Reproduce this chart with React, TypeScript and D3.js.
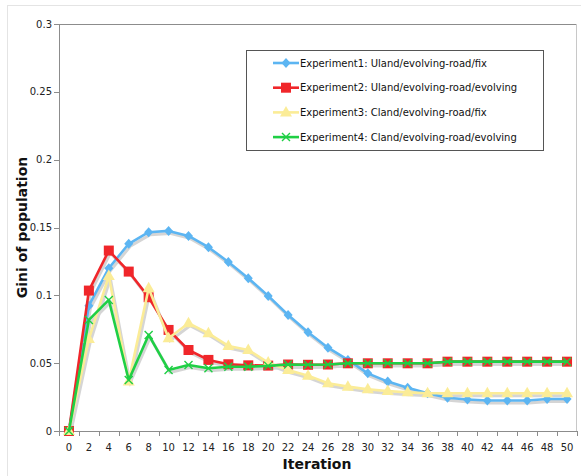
import React from "react";
import * as d3 from "d3";

const iterations = [0,2,4,6,8,10,12,14,16,18,20,22,24,26,28,30,32,34,36,38,40,42,44,46,48,50];
const exp1 = [0,0.0924,0.120,0.138,0.1465,0.1475,0.1438,0.1355,0.1246,0.1126,0.0996,0.0855,0.0728,0.0614,0.0524,0.0425,0.0364,0.0319,0.0278,0.0245,0.0232,0.0225,0.0225,0.0225,0.0236,0.0236];
const exp2 = [0,0.1035,0.133,0.1175,0.0986,0.0745,0.0597,0.0524,0.0492,0.0484,0.0482,0.049,0.0488,0.049,0.0499,0.0499,0.0499,0.0499,0.0499,0.0511,0.0511,0.0511,0.0511,0.0511,0.0511,0.0511];
const exp3 = [0,0.0678,0.1143,0.0364,0.1052,0.0684,0.0794,0.072,0.0627,0.0597,0.0504,0.045,0.0408,0.0352,0.0327,0.0307,0.0295,0.0285,0.0278,0.0278,0.0278,0.0278,0.0278,0.0278,0.0278,0.0278];
const exp4 = [0,0.0819,0.0966,0.0376,0.0708,0.045,0.0487,0.0462,0.0474,0.0474,0.048,0.049,0.0488,0.049,0.0499,0.0499,0.0499,0.0499,0.0499,0.0511,0.0511,0.0511,0.0511,0.0511,0.0511,0.0511];
const yTicks = [0,0.05,0.1,0.15,0.2,0.25,0.3];
const seriesNames = [
  "Experiment1: Uland/evolving-road/fix",
  "Experiment2: Uland/evolving-road/evolving",
  "Experiment3: Cland/evolving-road/fix",
  "Experiment4: Cland/evolving-road/evolving",
];
const seriesColors = ["#5cb5f2", "#f0262a", "#fbec97", "#1fcf45"];
const seriesShapes = ["diamond", "square", "triangle", "x"];

const W = 581, H = 476;
const L = 59, R = 577, T = 24, B = 431;
const FONT = "Tahoma, 'DejaVu Sans', Verdana, sans-serif";

function Marker({ shape, color, x, y }: { shape: string; color: string; x: number; y: number }) {
  if (shape === "diamond") {
    return <path d={`M${x},${y - 5}L${x + 4.5},${y}L${x},${y + 5}L${x - 4.5},${y}Z`} fill={color} />;
  }
  if (shape === "square") {
    return <rect x={x - 5} y={y - 5} width={10} height={10} fill={color} />;
  }
  if (shape === "triangle") {
    return <path d={`M${x},${y - 6.5}L${x + 6},${y + 4}L${x - 6},${y + 4}Z`} fill={color} />;
  }
  return (
    <path d={`M${x - 4},${y - 4}L${x + 4},${y + 4}M${x - 4},${y + 4}L${x + 4},${y - 4}`} stroke={color} strokeWidth={1.4} fill="none" />
  );
}

export default function App() {
  const x = d3.scaleBand<number>().domain(iterations).range([L, R]);
  const cx = (d: number) => (x(d) as number) + x.bandwidth() / 2;
  const y = d3.scaleLinear().domain([0, 0.3]).range([B, T]);
  const series = [exp1, exp2, exp3, exp4];
  const line = d3.line<number>().x((_, i) => cx(iterations[i])).y((v) => y(v));

  const boundaries = iterations.map((d) => x(d) as number).concat([R]);

  return (
    <svg width={W} height={H} style={{ position: "absolute", left: 0, top: 0 }}>
      <rect x={0} y={0} width={W} height={H} fill="#fff" />
      <rect x={7.5} y={5.5} width={W} height={H} fill="none" stroke="#e4e4e4" />
      {/* plot border */}
      <line x1={L} x2={R} y1={T + 0.5} y2={T + 0.5} stroke="#8c8c8c" />
      <line x1={R - 0.5} x2={R - 0.5} y1={T} y2={B} stroke="#c8c8c8" />
      {/* y axis */}
      <line x1={L + 0.5} x2={L + 0.5} y1={T} y2={B} stroke="#8c8c8c" />
      {yTicks.map((t) => (
        <g key={t}>
          <line x1={L - 5} x2={L} y1={Math.round(y(t)) + 0.5} y2={Math.round(y(t)) + 0.5} stroke="#8c8c8c" />
          <text x={L - 7} y={y(t)} dy="0.35em" textAnchor="end" fontSize={10} fontFamily={FONT} fill="#222">
            {t === 0 ? "0" : String(t)}
          </text>
        </g>
      ))}
      {/* x axis */}
      <line x1={L} x2={R} y1={B + 0.5} y2={B + 0.5} stroke="#8c8c8c" />
      {boundaries.map((b, i) => (
        <line key={i} x1={Math.round(b) + 0.5} x2={Math.round(b) + 0.5} y1={B} y2={B + 5} stroke="#8c8c8c" />
      ))}
      {iterations.map((d) => (
        <text key={d} x={cx(d)} y={451} textAnchor="middle" fontSize={10} fontFamily={FONT} fill="#222">
          {d}
        </text>
      ))}
      <text x={317} y={469} textAnchor="middle" fontSize={14} fontWeight="bold" fontFamily={FONT} fill="#111">
        Iteration
      </text>
      <text
        transform={`translate(27,${(T + B) / 2}) rotate(-90)`}
        textAnchor="middle"
        fontSize={14}
        fontWeight="bold"
        fontFamily={FONT}
        fill="#111"
      >
        Gini of population
      </text>
      {/* shadows */}
      <g transform="translate(1.5,2.5)" opacity={0.35}>
        {series.map((s, i) => (
          <path key={i} d={line(s) as string} fill="none" stroke="#888" strokeWidth={3} />
        ))}
      </g>
      {series.map((s, i) => (
        <g key={i}>
          <path d={line(s) as string} fill="none" stroke={seriesColors[i]} strokeWidth={2.6} strokeLinejoin="round" />
          {s.map((v, j) => (
            <Marker key={j} shape={seriesShapes[i]} color={seriesColors[i]} x={cx(iterations[j])} y={y(v)} />
          ))}
        </g>
      ))}
      {/* legend */}
      <rect x={246.5} y={50.5} width={297} height={100} fill="#fff" stroke="#555" strokeWidth={1} />
      {seriesNames.map((n, i) => {
        const ly = 63 + i * 24.7;
        return (
          <g key={i}>
            <line x1={273} x2={299} y1={ly} y2={ly} stroke={seriesColors[i]} strokeWidth={2.6} />
            <Marker shape={seriesShapes[i]} color={seriesColors[i]} x={286} y={ly} />
            <text x={300} y={ly} dy="0.35em" fontSize={10} fontFamily={FONT} fill="#111">
              {n}
            </text>
          </g>
        );
      })}
    </svg>
  );
}
